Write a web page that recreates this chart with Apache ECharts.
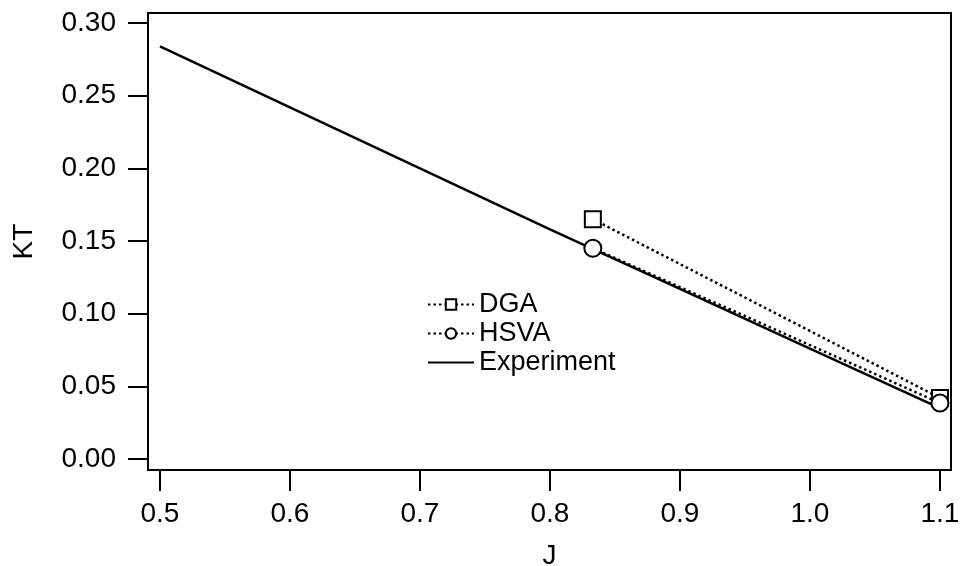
<!DOCTYPE html>
<html>
<head>
<meta charset="utf-8">
<script src="https://cdn.jsdelivr.net/npm/echarts@6/dist/echarts.min.js"></script>
<style>
  html, body { margin: 0; padding: 0; background: #fff; }
  #chart { width: 963px; height: 566px; }
</style>
</head>
<body>
<div id="chart"></div>
<script>
// data
const xTicks = [0.5, 0.6, 0.7, 0.8, 0.9, 1.0, 1.1];
const yTicks = [0, 0.05, 0.10, 0.15, 0.20, 0.25, 0.30];

const expJ = [0.5, 0.6, 0.7, 0.8, 0.9, 1.0, 1.1];
const expKT = [0.284, 0.242, 0.200, 0.158, 0.117, 0.076, 0.035];

const dgaJ = [0.833, 1.1];
const dgaKT = [0.165, 0.042];

const hsvaJ = [0.833, 1.1];
const hsvaKT = [0.145, 0.0385];

const pairs = (xs, ys) => xs.map((x, i) => [x, ys[i]]);

const font = 'Liberation Sans, Arial, Helvetica, sans-serif';

const chart = echarts.init(document.getElementById('chart'));
chart.setOption({
  animation: false,
  backgroundColor: '#fff',
  grid: {
    left: 148, right: 12, top: 13, bottom: 96,
    outerBoundsMode: 'none', containLabel: false,
    show: true, borderColor: '#000', borderWidth: 2
  },
  xAxis: {
    type: 'value',
    min: 0.4908, max: 1.1085,
    name: 'J', nameLocation: 'middle', nameGap: 72,
    nameTextStyle: { fontFamily: font, fontSize: 28, color: '#000' },
    axisLine: { onZero: false, lineStyle: { color: '#000', width: 2 } },
    axisTick: { customValues: xTicks, length: 21, lineStyle: { color: '#000', width: 2 } },
    axisLabel: {
      customValues: xTicks, margin: 30,
      fontFamily: font, fontSize: 28, color: '#000',
      formatter: v => v.toFixed(1)
    },
    splitLine: { show: false }
  },
  yAxis: {
    type: 'value',
    min: -0.0076, max: 0.3069,
    name: 'KT', nameLocation: 'middle', nameGap: 110, nameRotate: 90,
    nameTextStyle: { fontFamily: font, fontSize: 28, color: '#000' },
    axisLine: { onZero: false, lineStyle: { color: '#000', width: 2 } },
    axisTick: { customValues: yTicks, length: 20, lineStyle: { color: '#000', width: 2 } },
    axisLabel: {
      customValues: yTicks, margin: 32,
      fontFamily: font, fontSize: 28, color: '#000',
      formatter: v => v.toFixed(2)
    },
    splitLine: { show: false }
  },
  legend: {
    orient: 'vertical',
    left: 422, top: 286,
    itemGap: 2, itemWidth: 46, itemHeight: 13,
    textStyle: { fontFamily: font, fontSize: 27, color: '#000' },
    data: ['DGA', 'HSVA', { name: 'Experiment', itemStyle: { opacity: 0 } }]
  },
  series: [
    {
      name: 'Experiment',
      type: 'line',
      data: pairs(expJ, expKT),
      showSymbol: false,
      symbol: 'none',
      lineStyle: { color: '#000', width: 2.5 },
      itemStyle: { color: '#000' },
      z: 2
    },
    {
      name: 'DGA',
      type: 'line',
      data: pairs(dgaJ, dgaKT),
      symbol: 'rect', symbolSize: 16,
      lineStyle: { color: '#000', width: 2.5, type: [2.5, 3] },
      itemStyle: { color: '#fff', borderColor: '#000', borderWidth: 2 },
      z: 3
    },
    {
      name: 'HSVA',
      type: 'line',
      data: pairs(hsvaJ, hsvaKT),
      symbol: 'circle', symbolSize: 17,
      lineStyle: { color: '#000', width: 2.5, type: [2.5, 3] },
      itemStyle: { color: '#fff', borderColor: '#000', borderWidth: 2 },
      z: 3
    }
  ]
});
</script>
</body>
</html>
